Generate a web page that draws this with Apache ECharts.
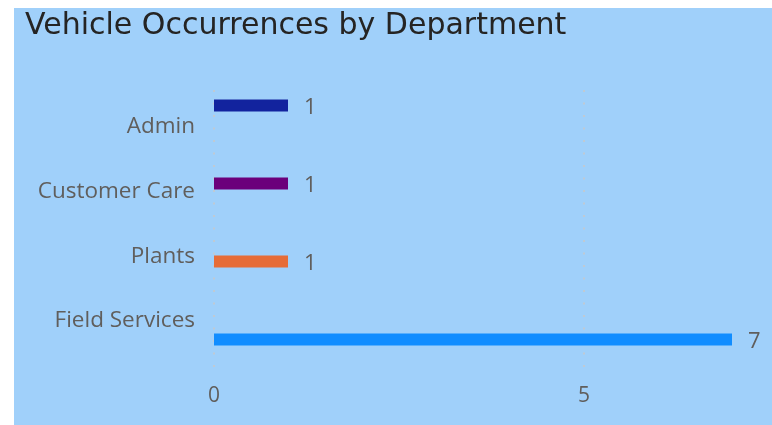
<!DOCTYPE html>
<html>
<head>
<meta charset="utf-8">
<script src="https://cdn.jsdelivr.net/npm/echarts@6/dist/echarts.min.js"></script>
<style>
  html, body { margin: 0; padding: 0; background: #ffffff; width: 772px; height: 425px; overflow: hidden; }
  #chart { position: absolute; left: 14px; top: 8px; width: 758px; height: 417px; background: #A0D0FA; }
</style>
</head>
<body>
<div id="chart"></div>
<script>
const titleText = 'Vehicle Occurrences by Department';
const categories = ['Admin', 'Customer Care', 'Plants', 'Field Services'];
const occurrences = [1, 1, 1, 7];
const xTicks = [0, 5];

const barColors = ['#12239E', '#6B007B', '#E66C37', '#118DFF'];
const font = "'Segoe UI', 'Open Sans', sans-serif";
const grey = '#605E5C';

const chart = echarts.init(document.getElementById('chart'), null, { renderer: 'canvas' });

chart.setOption({
  backgroundColor: 'transparent',
  animation: false,
  title: {
    text: titleText,
    left: 11,
    top: 3,
    padding: 0,
    textStyle: { fontFamily: "'DejaVu Sans', sans-serif", fontSize: 30, fontWeight: 'normal', color: '#252423' }
  },
  grid: [
    { left: 200, top: 58.5, width: 740, height: 312, outerBoundsMode: 'none' },
    { left: 200, top: 86.6, width: 740, height: 258.8, outerBoundsMode: 'none' },
    { left: 200, top: 82, width: 740, height: 283, outerBoundsMode: 'none' }
  ],
  xAxis: [
    { gridIndex: 0, type: 'value', min: 0, max: 10, show: false },
    { gridIndex: 1, type: 'value', min: 0, max: 10, show: false },
    {
      gridIndex: 2, type: 'value', min: xTicks[0], max: 10, interval: xTicks[1] - xTicks[0],
      axisLine: { show: false }, axisTick: { show: false },
      axisLabel: { margin: 13, fontFamily: font, fontSize: 21, color: grey },
      splitLine: { show: true, lineStyle: { color: '#BFCAD4', width: 2, type: [2, 10.5] } }
    }
  ],
  yAxis: [
    {
      gridIndex: 0, type: 'category', data: categories, inverse: true, show: false
    },
    {
      gridIndex: 1, type: 'category', data: categories, inverse: true,
      axisLine: { show: false }, axisTick: { show: false },
      axisLabel: { margin: 19, fontFamily: font, fontSize: 22.5, color: grey },
      splitLine: { show: false }
    },
    { gridIndex: 2, type: 'value', min: 0, max: 1, show: false }
  ],
  series: [
    {
      type: 'bar',
      xAxisIndex: 0,
      yAxisIndex: 0,
      barWidth: 12,
      data: occurrences.map((v, i) => ({ value: v, itemStyle: { color: barColors[i] } })),
      label: {
        show: true, position: 'right', distance: 16, offset: [0, 2],
        fontFamily: font, fontSize: 22, color: grey
      }
    }
  ]
});
</script>
</body>
</html>
